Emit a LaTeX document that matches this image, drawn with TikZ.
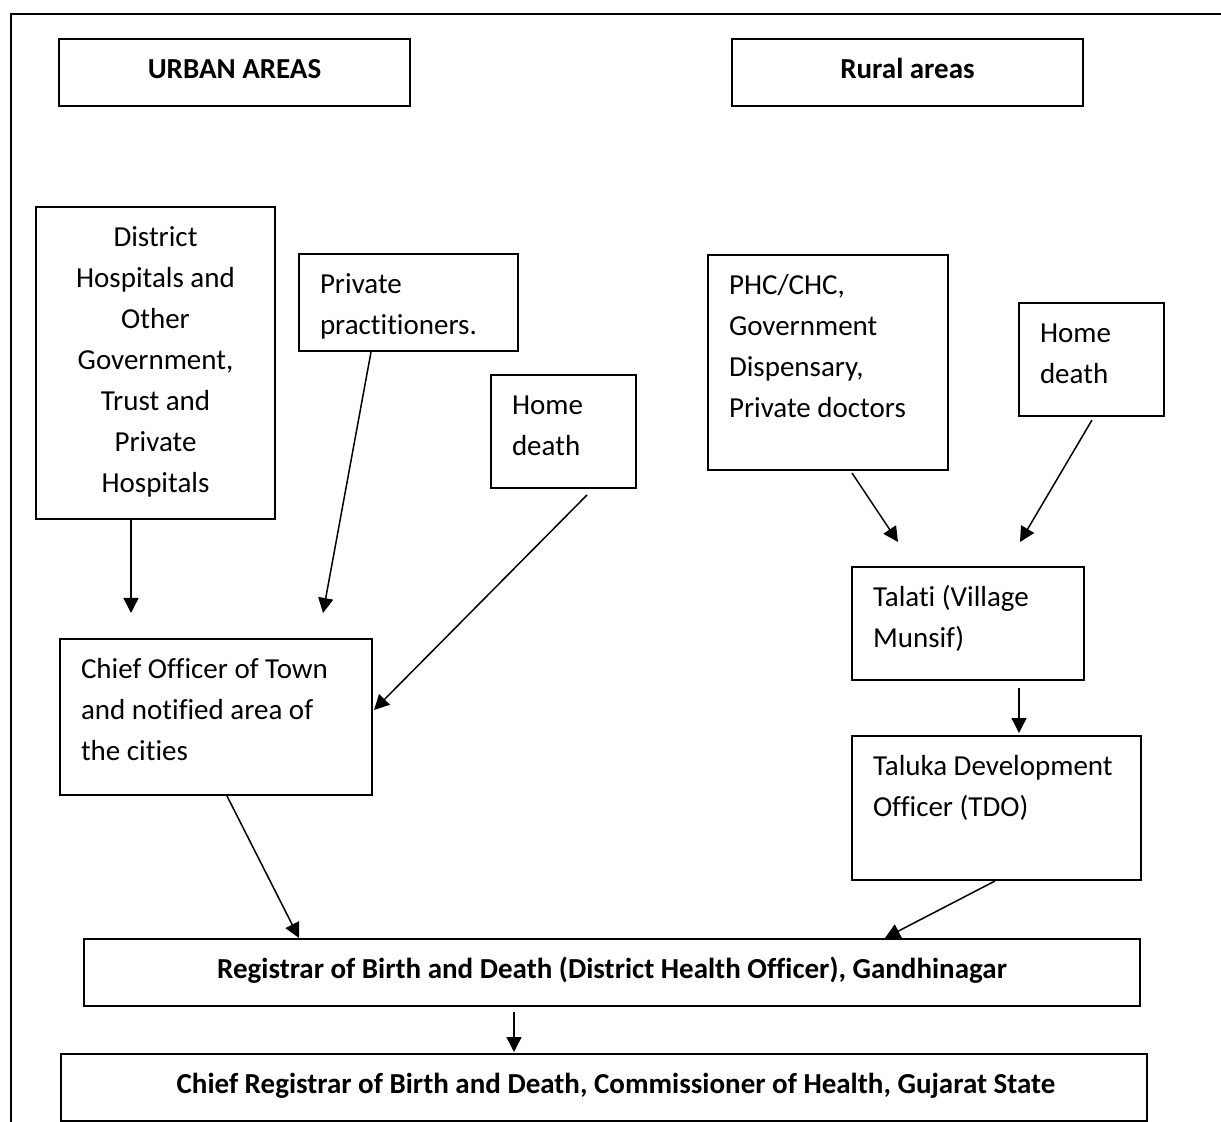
\documentclass[tikz,border=0pt]{standalone}
\usepackage{fontspec}
\setmainfont{Carlito}[Ligatures={TeX,NoCommon}]
\usetikzlibrary{arrows.meta,calc}
\tikzset{
  fbox/.style={draw, line width=1pt, inner sep=0pt, anchor=north west,
    font=\fontsize{14.5pt}{20.5pt}\selectfont},
  arr/.style={line width=0.75pt, -{Triangle[length=7.5pt,width=7.5pt]}},
}
\newcommand\mkbox[7]{%
  \node[fbox] (#1) at (#2,#3) {\parbox[t][\dimexpr(#5pt-#3pt)/2\relax][t]{\dimexpr(#4pt-#2pt)/2\relax}{#6\rule{0pt}{19.75pt}#7}};%
}
\newcommand\LA{\raggedright\leftskip=10.5pt\relax}
\newcommand\CE{\centering}
\begin{document}
\begin{tikzpicture}[x=0.5pt,y=-0.5pt]
\useasboundingbox (0,0) rectangle (1221,1122);
\draw[line width=1.2pt] (11,1122) -- (11,14) -- (1221,14);

\mkbox{urban}{58}{38}{409}{105}{\CE\bfseries}{URBAN AREAS}
\mkbox{rural}{731}{38}{1082}{105}{\CE\bfseries}{Rural areas}
\mkbox{dist}{35}{206}{274}{518}{\CE}{District\\Hospitals and\\Other\\Government,\\Trust and\\Private\\Hospitals}
\mkbox{priv}{298}{253}{517}{350}{\LA}{Private\\practitioners.}
\mkbox{homeU}{490}{374}{635}{487}{\LA}{Home\\death}
\mkbox{phc}{707}{254}{947}{469}{\LA}{PHC/CHC,\\Government\\Dispensary,\\Private doctors}
\mkbox{homeR}{1018}{302}{1163}{415}{\LA}{Home\\death}
\mkbox{talati}{851}{566}{1083}{679}{\LA}{Talati (Village\\Munsif)}
\mkbox{tdo}{851}{735}{1140}{879}{\LA}{Taluka Development\\Officer (TDO)}
\mkbox{chief}{59}{638}{371}{794}{\LA}{Chief Officer of Town\\and notified area of\\the cities}
\mkbox{reg}{83}{938}{1139}{1005}{\CE\bfseries}{Registrar of Birth and Death (District Health Officer), Gandhinagar}
\mkbox{creg}{60}{1053}{1146}{1120}{\CE\bfseries}{\hspace*{12pt}Chief Registrar of Birth and Death, Commissioner of Health, Gujarat State}

\draw[arr] ($(dist.south west)+(96,0)$) -- ($(chief.north west)+(72,-25)$);
\draw[arr] ($(priv.south west)+(73,0)$) -- ($(chief.north west)+(264,-25)$);
\draw[arr] ($(homeU.south west)+(97,6)$) -- ($(chief.north east)+(1,72)$);
\draw[arr] ($(phc.south west)+(145,2)$) -- ($(talati.north west)+(47,-24)$);
\draw[arr] ($(homeR.south west)+(74,3)$) -- ($(talati.north west)+(169,-24)$);
\draw[arr] ($(talati.south west)+(168,7)$) -- ($(tdo.north west)+(168,-2)$);
\draw[arr] ($(chief.south west)+(168,0)$) -- ($(reg.north west)+(216,0)$);
\draw[arr] ($(tdo.south west)+(144,0)$) -- ($(reg.north west)+(802,0)$);
\draw[arr] ($(reg.south west)+(431,5)$) -- ($(creg.north west)+(454,-1)$);
\end{tikzpicture}
\end{document}
